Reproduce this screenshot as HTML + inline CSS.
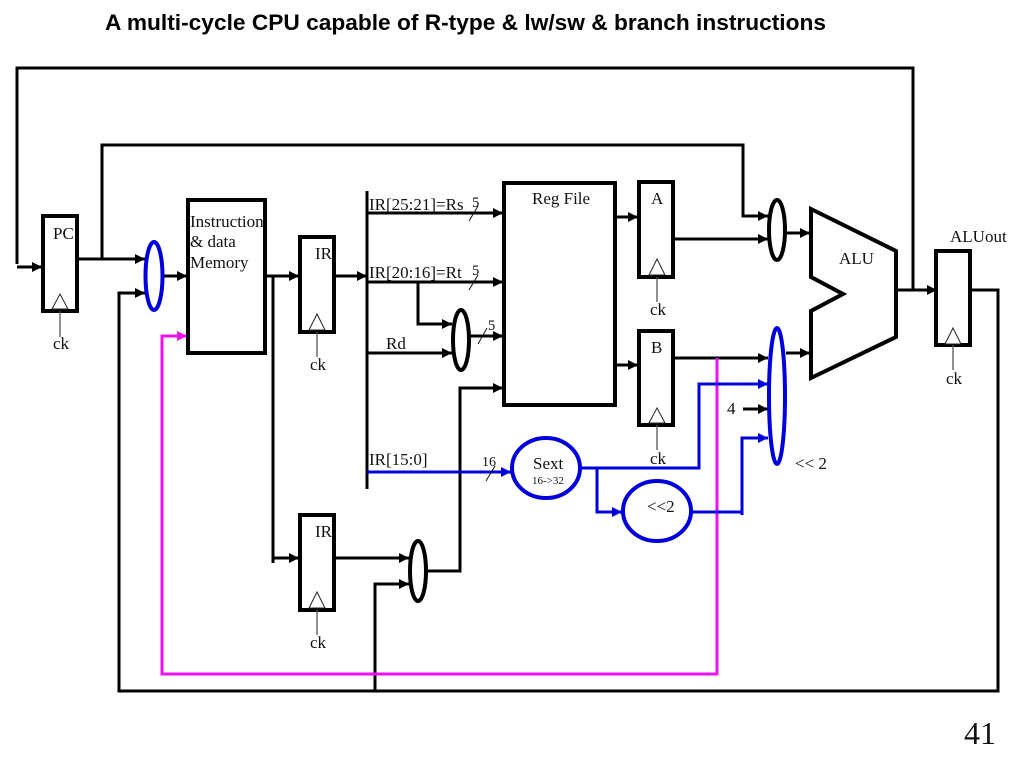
<!DOCTYPE html>
<html><head><meta charset="utf-8"><style>
html,body{margin:0;padding:0;background:#fff;width:1024px;height:768px;overflow:hidden}
svg{display:block}
text{font-family:"Liberation Serif",serif;fill:#111}
.t{font-family:"Liberation Sans",sans-serif;font-weight:bold;font-size:22px;fill:#000}
.w{fill:none;stroke:#000;stroke-width:3;stroke-linejoin:miter}
.b{fill:none;stroke:#0000dd;stroke-width:3}
.m{fill:none;stroke:#ee11ee;stroke-width:3}
.box{fill:#fff;stroke:#000;stroke-width:4}
.blk{fill:#000}.blu{fill:#0000dd}.mag{fill:#ee11ee}
.tri{fill:#fff;stroke:#222;stroke-width:1}
.ck{stroke:#555;stroke-width:1.3}
.sl{stroke:#111;stroke-width:1}
.l{font-size:17px}
</style></head><body>
<svg width="1024" height="768" viewBox="0 0 1024 768" xmlns="http://www.w3.org/2000/svg">
<defs>
<path id="ah" d="M-10,-5 L0,0 L-10,5 Z"/>
</defs>
<text class="t" x="105" y="30" textLength="721" lengthAdjust="spacingAndGlyphs">A multi-cycle CPU capable of R-type &amp; lw/sw &amp; branch instructions</text>

<!-- black wires -->
<path class="w" d="M896,290 H936"/>
<path class="w" d="M913,290 V68 H17 V264"/>
<path class="w" d="M17,267 H42"/>
<path class="w" d="M77,259 H145"/>
<path class="w" d="M102,259 V145 H743 V216 H768"/>
<path class="w" d="M145,293 H119 V691 H998 V290 H971"/>
<path class="w" d="M375,691 V584 H409"/>
<path class="w" d="M163,276 H187"/>
<path class="w" d="M265,276 H299"/>
<path class="w" d="M273,276 V563"/>
<path class="w" d="M273,558 H299"/>
<path class="w" d="M334,276 H367"/>
<path class="w" d="M334,558 H409"/>
<path class="w" d="M427,571 H460 V388 H503"/>
<path class="w" d="M367,191 V489"/>
<path class="w" d="M367,213 H503"/>
<path class="w" d="M367,282 H503"/>
<path class="w" d="M418,282 V324 H452"/>
<path class="w" d="M367,353 H452"/>
<path class="w" d="M470,336 H503"/>
<path class="w" d="M615,217 H638"/>
<path class="w" d="M615,365 H638"/>
<path class="w" d="M674,239 H768"/>
<path class="w" d="M674,358 H768"/>
<path class="w" d="M786,233 H811"/>
<path class="w" d="M786,353 H811"/>
<path class="w" d="M743,409 H768"/>

<!-- magenta -->
<path class="m" d="M717,358 V674 H162 V336 H187"/>

<!-- blue wires -->
<path class="b" d="M367,472 H511"/>
<path class="b" d="M581,468 H699 V384 H768"/>
<path class="b" d="M597,468 V512 H622"/>
<path class="b" d="M692,512 H742"/>
<path class="b" d="M742,515 V438 H768"/>

<!-- boxes -->
<rect class="box" x="43" y="216" width="34" height="95"/>
<rect class="box" x="188" y="200" width="77" height="153"/>
<rect class="box" x="300" y="237" width="34" height="95"/>
<rect class="box" x="300" y="515" width="34" height="95"/>
<rect class="box" x="504" y="183" width="111" height="222"/>
<rect class="box" x="639" y="182" width="34" height="95"/>
<rect class="box" x="639" y="331" width="34" height="94"/>
<rect class="box" x="936" y="251" width="34" height="94"/>
<polygon points="811,209 896,251 896,337 811,378 811,311 843,294 811,277" fill="#fff" stroke="#000" stroke-width="4"/>

<!-- muxes -->
<ellipse cx="154" cy="276" rx="8.5" ry="34" fill="#fff" stroke="#0000dd" stroke-width="4"/>
<ellipse cx="461" cy="340" rx="8" ry="30" fill="#fff" stroke="#000" stroke-width="4"/>
<ellipse cx="418" cy="571" rx="8" ry="30" fill="#fff" stroke="#000" stroke-width="4"/>
<ellipse cx="777" cy="230" rx="8" ry="30" fill="#fff" stroke="#000" stroke-width="4"/>
<ellipse cx="777" cy="396" rx="8" ry="68" fill="#fff" stroke="#0000dd" stroke-width="4"/>
<ellipse cx="546" cy="468" rx="34" ry="30" fill="#fff" stroke="#0000dd" stroke-width="4"/>
<ellipse cx="657" cy="511" rx="34" ry="30" fill="#fff" stroke="#0000dd" stroke-width="4"/>

<!-- clock triangles -->
<g>
<polygon class="tri" points="52,309 60,294 68,309"/><line class="ck" x1="60" y1="311" x2="60" y2="337"/>
<polygon class="tri" points="309,330 317,314 325,330"/><line class="ck" x1="317" y1="332" x2="317" y2="357"/>
<polygon class="tri" points="309,608 317,592 325,608"/><line class="ck" x1="317" y1="610" x2="317" y2="635"/>
<polygon class="tri" points="649,275 657,259 665,275"/><line class="ck" x1="657" y1="277" x2="657" y2="302"/>
<polygon class="tri" points="649,423 657,408 665,423"/><line class="ck" x1="657" y1="425" x2="657" y2="450"/>
<polygon class="tri" points="945,344 953,328 961,344"/><line class="ck" x1="953" y1="345" x2="953" y2="370"/>
</g>

<!-- arrowheads -->
<g class="blk">
<use href="#ah" x="42" y="267"/><use href="#ah" x="145" y="259"/><use href="#ah" x="145" y="293"/>
<use href="#ah" x="187" y="276"/><use href="#ah" x="299" y="276"/><use href="#ah" x="299" y="558"/>
<use href="#ah" x="367" y="276"/><use href="#ah" x="409" y="558"/><use href="#ah" x="409" y="584"/>
<use href="#ah" x="452" y="324"/><use href="#ah" x="452" y="353"/>
<use href="#ah" x="503" y="213"/><use href="#ah" x="503" y="282"/><use href="#ah" x="503" y="336"/><use href="#ah" x="503" y="388"/>
<use href="#ah" x="638" y="217"/><use href="#ah" x="638" y="365"/>
<use href="#ah" x="768" y="216"/><use href="#ah" x="768" y="239"/><use href="#ah" x="768" y="358"/><use href="#ah" x="768" y="409"/>
<use href="#ah" x="810" y="233"/><use href="#ah" x="810" y="353"/><use href="#ah" x="937" y="290"/>
</g>
<g class="blu">
<use href="#ah" x="511" y="472"/><use href="#ah" x="622" y="512"/><use href="#ah" x="768" y="384"/><use href="#ah" x="768" y="438"/>
</g>
<use class="mag" href="#ah" x="187" y="336"/>

<!-- bus slashes -->
<line class="sl" x1="469" y1="221" x2="478" y2="206"/>
<line class="sl" x1="469" y1="290" x2="478" y2="275"/>
<line class="sl" x1="478" y1="344" x2="487" y2="328"/>
<line class="sl" x1="486" y1="481" x2="495" y2="466"/>

<!-- labels -->
<text class="l" x="53" y="239">PC</text>
<text class="l" x="190" y="227">Instruction</text>
<text class="l" x="190" y="247">&amp; data</text>
<text class="l" x="190" y="268">Memory</text>
<text class="l" x="315" y="259">IR</text>
<text class="l" x="315" y="537">IR</text>
<text class="l" x="532" y="204">Reg File</text>
<text class="l" x="651" y="204">A</text>
<text class="l" x="651" y="353">B</text>
<text class="l" x="839" y="264">ALU</text>
<text class="l" x="950" y="242">ALUout</text>
<text class="l" x="369" y="210">IR[25:21]=Rs</text>
<text class="l" x="369" y="278">IR[20:16]=Rt</text>
<text class="l" x="386" y="349">Rd</text>
<text class="l" x="369" y="465">IR[15:0]</text>
<text x="472" y="207" font-size="14.5">5</text>
<text x="472" y="275" font-size="14.5">5</text>
<text x="488" y="330" font-size="14.5">5</text>
<text x="482" y="466" font-size="14">16</text>
<text class="l" x="533" y="469">Sext</text>
<text x="532" y="484" font-size="11">16-&gt;32</text>
<text class="l" x="647" y="512">&lt;&lt;2</text>
<text class="l" x="727" y="414">4</text>
<text class="l" x="795" y="469">&lt;&lt; 2</text>
<text class="l" x="53" y="349">ck</text>
<text class="l" x="310" y="370">ck</text>
<text class="l" x="310" y="648">ck</text>
<text class="l" x="650" y="315">ck</text>
<text class="l" x="650" y="464">ck</text>
<text class="l" x="946" y="384">ck</text>
<text x="964" y="744" font-size="32">41</text>
</svg>
</body></html>
